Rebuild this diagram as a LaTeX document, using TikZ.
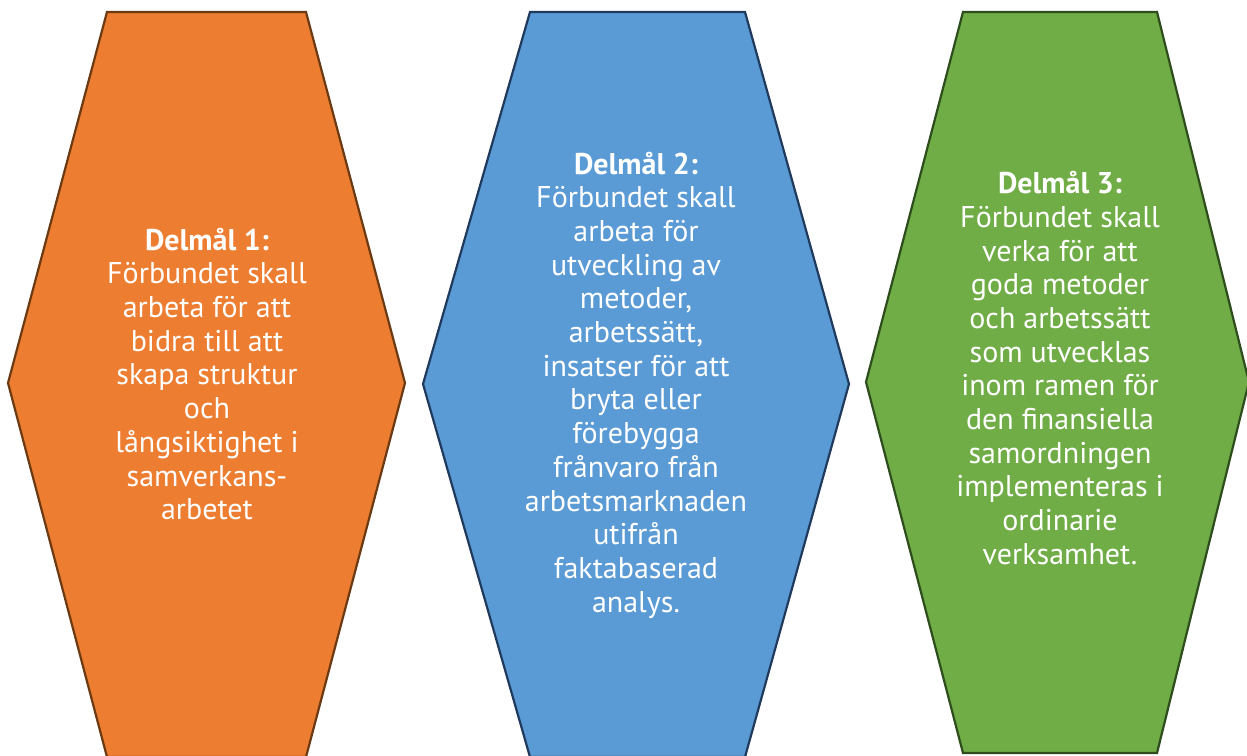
\documentclass[tikz,border=0pt]{standalone}
\usepackage{fontspec}
\setmainfont{PT Sans}
\definecolor{orfill}{HTML}{ED7D31}
\definecolor{ordraw}{HTML}{6B3A12}
\definecolor{blfill}{HTML}{5B9BD5}
\definecolor{bldraw}{HTML}{1F3A5C}
\definecolor{grfill}{HTML}{70AD47}
\definecolor{grdraw}{HTML}{2E4D1C}
\tikzset{
  hexbox/.style={line width=2.2pt, line join=miter},
  hextext/.style={text=white, align=center, font=\fontsize{30}{33.7}\selectfont, inner sep=0pt}
}
\begin{document}
\begin{tikzpicture}[x=1pt,y=1pt]
\useasboundingbox (0,0) rectangle (1247,755);
\fill[white] (0,0) rectangle (1247,755);
% orange
\path[hexbox, fill=orfill, draw=ordraw] (107,743) -- (306,743) -- (405,372) -- (306,-2) -- (107,-2) -- (8,372) -- cycle;
% blue
\path[hexbox, fill=blfill, draw=bldraw] (530,743) -- (745,743) -- (849,371) -- (745,-2) -- (530,-2) -- (423,371) -- cycle;
% green
\path[hexbox, fill=grfill, draw=grdraw] (963,743) -- (1157,743) -- (1249,373) -- (1157,2) -- (963,2) -- (866,373) -- cycle;
\node[hextext] (t1) at (207,381) {\textbf{Delmål 1:}\\Förbundet skall\\arbeta för att\\bidra till att\\skapa struktur\\och\\långsiktighet i\\samverkans-\\arbetet};
\node[hextext] (t2) at (636,370) {\textbf{Delmål 2:}\\Förbundet skall\\arbeta för\\utveckling av\\metoder,\\arbetssätt,\\insatser för att\\bryta eller\\förebygga\\frånvaro från\\arbetsmarknaden\\utifrån\\faktabaserad\\analys.};
\node[hextext] (t3) at (1060,387) {\textbf{Delmål 3:}\\Förbundet skall\\verka för att\\goda metoder\\och arbetssätt\\som utvecklas\\inom ramen för\\den finansiella\\samordningen\\implementeras i\\ordinarie\\verksamhet.};
\end{tikzpicture}
\end{document}
